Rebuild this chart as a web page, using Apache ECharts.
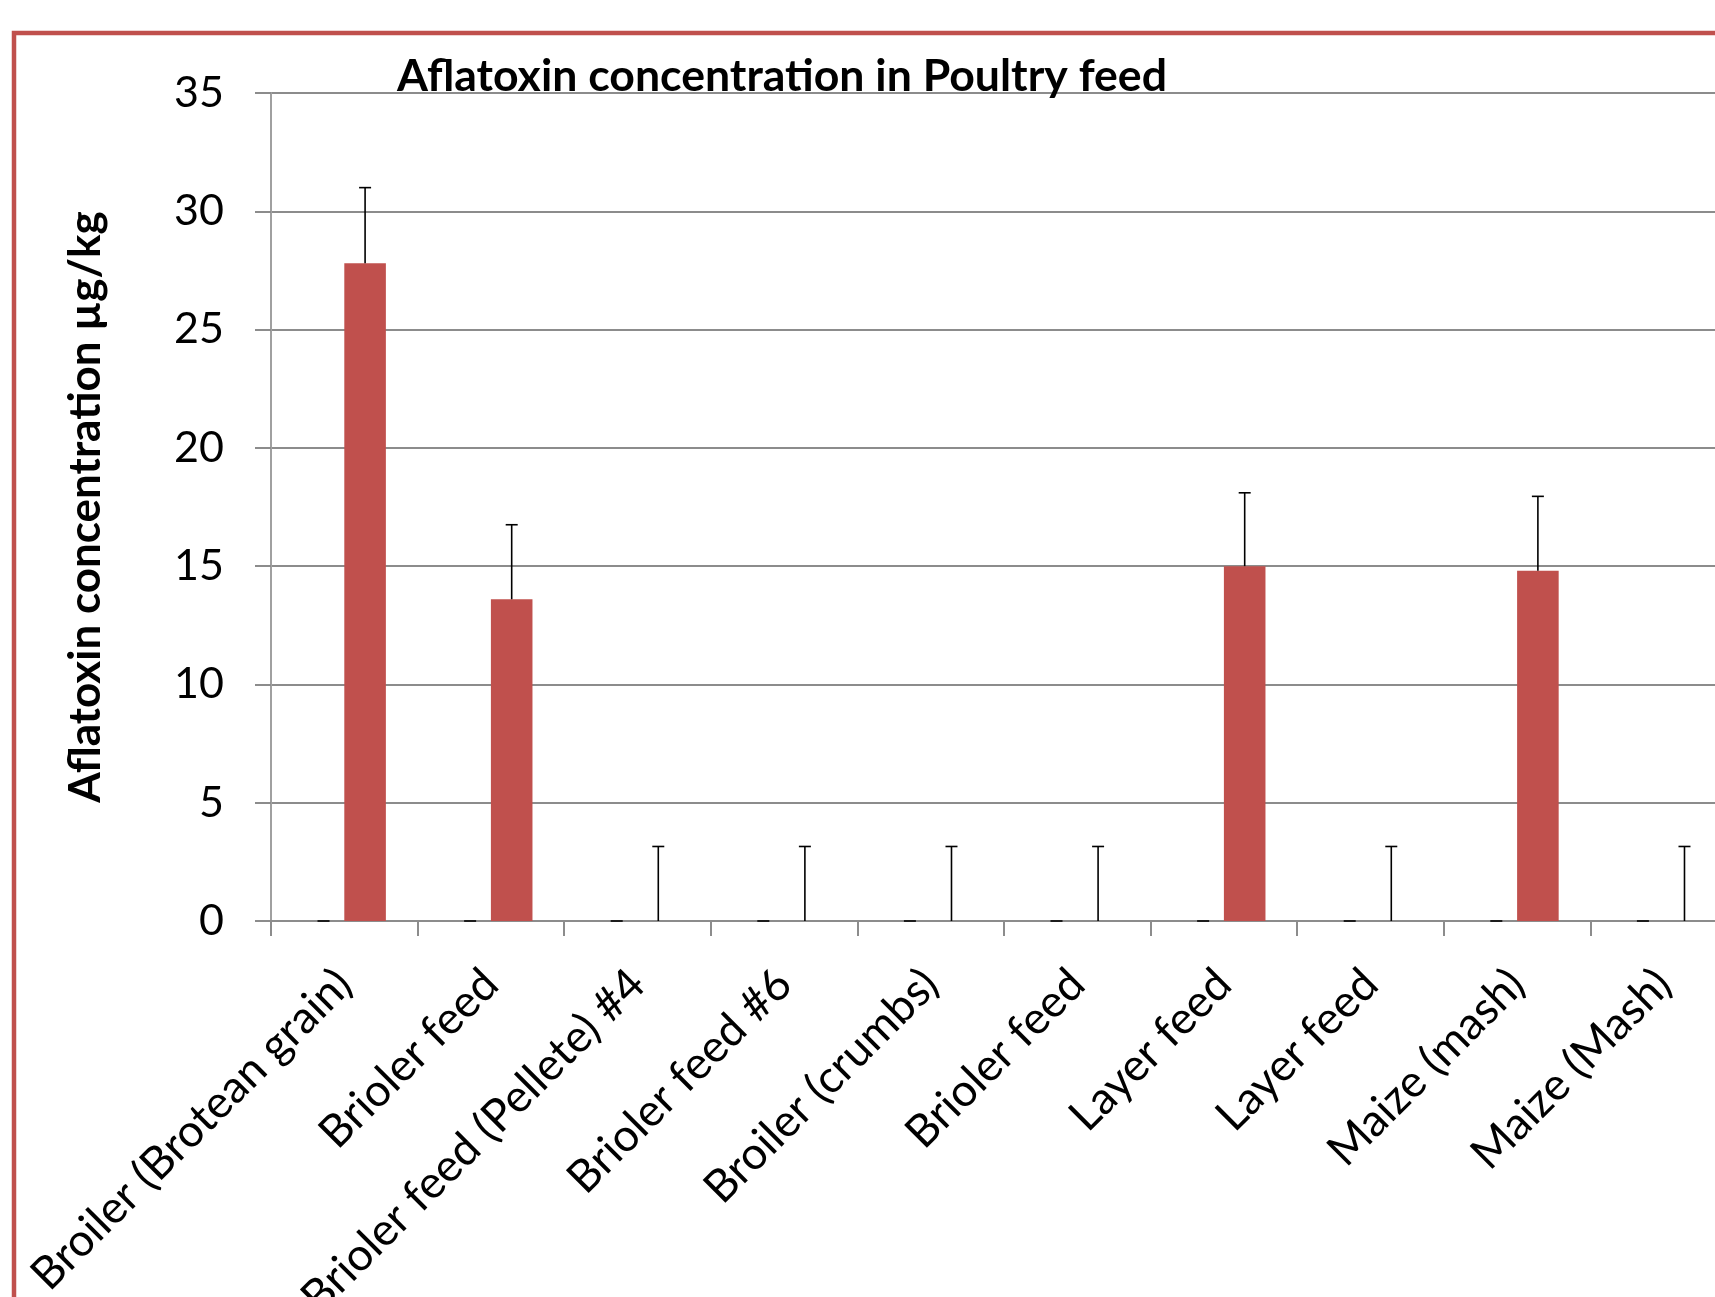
<!DOCTYPE html>
<html>
<head>
<meta charset="utf-8">
<script src="https://cdn.jsdelivr.net/npm/echarts@6/dist/echarts.min.js"></script>
<style>
html,body{margin:0;padding:0;background:#fff;}
#chart{width:1715px;height:1297px;}
</style>
</head>
<body>
<div id="chart"></div>
<script>
const categories = [
  "Broiler (Brotean grain)",
  "Brioler feed",
  "Brioler feed (Pellete) #4",
  "Brioler feed #6",
  "Broiler (crumbs)",
  "Brioler feed",
  "Layer feed",
  "Layer feed",
  "Maize (mash)",
  "Maize (Mash)"
];
const series1Values = [0, 0, 0, 0, 0, 0, 0, 0, 0, 0];
const series1Errors = [0, 0, 0, 0, 0, 0, 0, 0, 0, 0];
const series2Values = [27.8, 13.6, 0, 0, 0, 0, 15.0, 0, 14.8, 0];
const series2Errors = [3.2, 3.15, 3.15, 3.15, 3.15, 3.15, 3.1, 3.15, 3.15, 3.15];
const yTicks = {min: 0, max: 35, interval: 5};
const titleText = "Aflatoxin concentration in Poultry feed";
const yAxisName = "Aflatoxin concentration \u00b5g/kg";

const FONT = "Lato";
const BAR_FRAC = 0.2836;
const RED = "#C0504D";

function errData(vals, errs) {
  return vals.map((v, i) => [i, v, v + errs[i]]);
}
function makeErrRender(side) {
  return function (params, api) {
    const idx = api.value(0);
    const base = api.coord([idx, api.value(1)]);
    const top = api.coord([idx, api.value(2)]);
    const band = api.size([1, 0])[0];
    const off = side * band * BAR_FRAC / 2;
    const x = base[0] + off;
    const half = 6;
    const style = {stroke: "#000", lineWidth: 1.6};
    return {
      type: "group",
      children: [
        {type: "line", shape: {x1: x, y1: base[1], x2: x, y2: top[1]}, style: style},
        {type: "line", shape: {x1: x - half, y1: top[1], x2: x + half, y2: top[1]}, style: style}
      ]
    };
  };
}

const chart = echarts.init(document.getElementById("chart"), null, {renderer: "canvas"});
chart.setOption({
  backgroundColor: "#fff",
  animation: false,
  title: {
    text: titleText,
    left: 397,
    top: 54,
    padding: 0,
    textStyle: {fontFamily: FONT, fontWeight: "bold", fontSize: 44.6, color: "#000"}
  },
  graphic: [{
    type: "rect",
    shape: {x: 14, y: 33, width: 2400, height: 2400},
    style: {fill: "none", stroke: RED, lineWidth: 4.5},
    silent: true,
    z: -10
  }],
  grid: {left: 271, right: -22, top: 93, bottom: 376, containLabel: false, outerBoundsMode: "none"},
  xAxis: {
    type: "category",
    data: categories,
    axisLine: {lineStyle: {color: "#8c8c8c", width: 2}},
    axisTick: {show: true, length: 15, lineStyle: {color: "#8c8c8c", width: 2}},
    axisLabel: {
      rotate: 45,
      margin: 56,
      interval: 0,
      fontFamily: FONT,
      fontSize: 45,
      color: "#000"
    },
    splitLine: {show: false}
  },
  yAxis: {
    type: "value",
    min: yTicks.min,
    max: yTicks.max,
    interval: yTicks.interval,
    name: yAxisName,
    nameLocation: "middle",
    nameRotate: 90,
    nameGap: 163,
    nameTextStyle: {fontFamily: FONT, fontWeight: "bold", fontSize: 44, color: "#000"},
    axisLine: {show: true, lineStyle: {color: "#a0a0a0", width: 2}},
    axisTick: {show: true, length: 16, lineStyle: {color: "#8c8c8c", width: 2}},
    axisLabel: {margin: 47, fontFamily: FONT, fontSize: 43, color: "#000"},
    splitLine: {show: true, lineStyle: {color: "#8c8c8c", width: 2}}
  },
  series: [
    {
      type: "bar",
      name: "Series1",
      data: series1Values,
      barWidth: (BAR_FRAC * 100) + "%",
      barGap: "0%",
      itemStyle: {color: "#4F81BD"}
    },
    {
      type: "bar",
      name: "Series2",
      data: series2Values,
      barWidth: (BAR_FRAC * 100) + "%",
      barGap: "0%",
      itemStyle: {color: RED}
    },
    {
      type: "custom",
      name: "err1",
      renderItem: makeErrRender(-1),
      data: errData(series1Values, series1Errors),
      encode: {x: 0, y: [1, 2]},
      z: 10
    },
    {
      type: "custom",
      name: "err2",
      renderItem: makeErrRender(1),
      data: errData(series2Values, series2Errors),
      encode: {x: 0, y: [1, 2]},
      z: 10
    }
  ]
});
</script>
</body>
</html>
